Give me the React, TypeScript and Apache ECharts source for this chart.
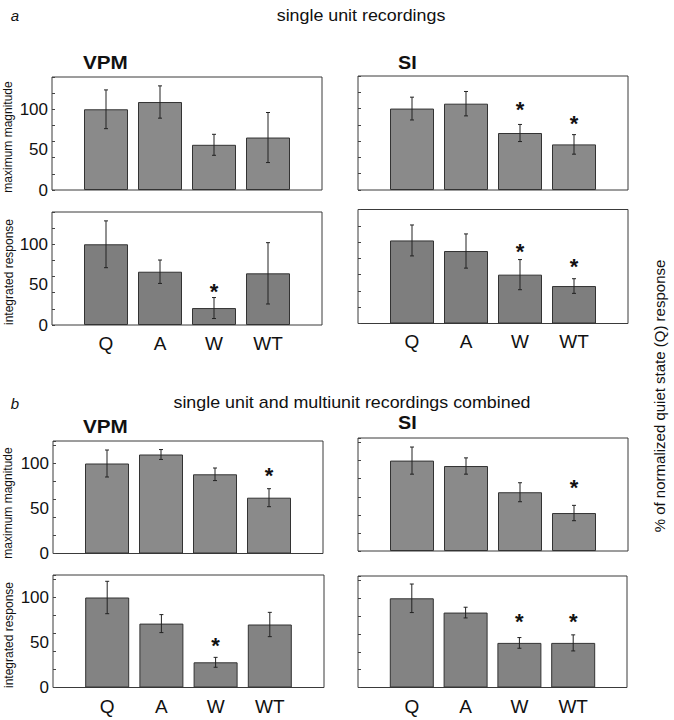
import React, { useEffect, useRef } from "react";
import * as echarts from "echarts";

const categories = ["Q", "A", "W", "WT"];
const yTickLabels = [0, 50, 100];

// panel a: single unit recordings
const aVpmMax = [100, 109, 56, 65];
const aVpmMaxErr = [24, 20, 13, 31];
const aVpmMaxStar = [null, null, null, null];
const aVpmInt = [100, 66, 21, 64];
const aVpmIntErr = [29, 14.5, 13, 38];
const aVpmIntStar = [null, null, 46, null];
const aSiMax = [100, 106, 70, 56];
const aSiMaxErr = [14, 15, 10.5, 12];
const aSiMaxStar = [null, null, 104, 86];
const aSiInt = [102, 89, 60, 46];
const aSiIntErr = [19, 21, 18.5, 9];
const aSiIntStar = [null, null, 93, 75];

// panel b: single unit and multiunit combined
const bVpmMax = [100, 110, 88, 62];
const bVpmMaxErr = [15, 5.5, 7, 10];
const bVpmMaxStar = [null, null, null, 91];
const bVpmInt = [100, 71, 28, 70];
const bVpmIntErr = [18, 10, 5.5, 13.5];
const bVpmIntStar = [null, null, 51, null];
const bSiMax = [100, 94, 65, 42];
const bSiMaxErr = [15, 9, 10.5, 8.5];
const bSiMaxStar = [null, null, null, 74.5];
const bSiInt = [100, 84, 50, 50];
const bSiIntErr = [16, 6, 6, 9];
const bSiIntStar = [null, null, 78, 78];

const FONT = "'Liberation Sans', Arial, Helvetica, sans-serif";

type Panel = {
  vals: number[];
  errs: number[];
  stars: (number | null)[];
  left: number;
  top: number;
  width: number;
  height: number;
  max: number;
  showY: boolean;
  showX: boolean;
  xMargin: number;
  color: string;
};

const panels: Panel[] = [
  { vals: aVpmMax, errs: aVpmMaxErr, stars: aVpmMaxStar, left: 52, top: 77, width: 270, height: 113, max: 140, showY: true, showX: false, xMargin: 9, color: "#8a8a8a" },
  { vals: aVpmInt, errs: aVpmIntErr, stars: aVpmIntStar, left: 52, top: 212, width: 270, height: 113, max: 140, showY: true, showX: true, xMargin: 9, color: "#7e7e7e" },
  { vals: aSiMax, errs: aSiMaxErr, stars: aSiMaxStar, left: 358, top: 76, width: 270, height: 114, max: 140, showY: false, showX: false, xMargin: 8, color: "#8a8a8a" },
  { vals: aSiInt, errs: aSiIntErr, stars: aSiIntStar, left: 358, top: 209.5, width: 270, height: 114, max: 140, showY: false, showX: true, xMargin: 8, color: "#7e7e7e" },
  { vals: bVpmMax, errs: bVpmMaxErr, stars: bVpmMaxStar, left: 53, top: 441, width: 270, height: 112.5, max: 125, showY: true, showX: false, xMargin: 9, color: "#8a8a8a" },
  { vals: bVpmInt, errs: bVpmIntErr, stars: bVpmIntStar, left: 53, top: 575, width: 271, height: 112.5, max: 125, showY: true, showX: true, xMargin: 9, color: "#838383" },
  { vals: bSiMax, errs: bSiMaxErr, stars: bSiMaxStar, left: 358, top: 438, width: 270, height: 113, max: 125, showY: false, showX: false, xMargin: 8, color: "#8a8a8a" },
  { vals: bSiInt, errs: bSiIntErr, stars: bSiIntStar, left: 358, top: 576, width: 269, height: 111.5, max: 125, showY: false, showX: true, xMargin: 9, color: "#838383" },
];

function txt(text: string, x: number, y: number, opts: any = {}) {
  return {
    type: "text",
    x,
    y,
    rotation: opts.rotation || 0,
    scaleX: opts.scaleX || 1,
    style: {
      text,
      fontSize: opts.fontSize || 16,
      fontFamily: FONT,
      fontWeight: opts.fontWeight || "normal",
      fontStyle: opts.fontStyle || "normal",
      fill: "#111",
      align: opts.align || "center",
      verticalAlign: "middle",
    },
  };
}

export default function App() {
  const ref = useRef<HTMLDivElement>(null);
  useEffect(() => {
    document.body.style.margin = "0";
    const chart = echarts.init(ref.current!, null, { renderer: "svg" });
    const grid: any[] = [];
    const xAxis: any[] = [];
    const yAxis: any[] = [];
    const series: any[] = [];
    panels.forEach((p, i) => {
      grid.push({ left: p.left, top: p.top, width: p.width, height: p.height, show: true, borderColor: "#3a3a3a", borderWidth: 1, containLabel: false });
      xAxis.push({
        type: "value", gridIndex: i, min: 0, max: 5, interval: 1,
        axisLine: { show: false }, axisTick: { show: false }, splitLine: { show: false },
        axisLabel: {
          show: p.showX, margin: p.xMargin, fontSize: 19, fontFamily: FONT, color: "#111",
          formatter: (v: number) => categories[v - 1] ?? "",
        },
      });
      yAxis.push({
        type: "value", gridIndex: i, position: "left", min: 0, max: p.max, interval: 50,
        axisLine: { show: false }, axisTick: { show: false }, splitLine: { show: false },
        axisLabel: {
          show: p.showY, showMaxLabel: false, margin: 4, fontSize: 17, fontFamily: FONT, color: "#111",
          formatter: (v: number) => (yTickLabels.indexOf(v) >= 0 ? String(v) : ""),
        },
      });
      yAxis.push({
        type: "value", gridIndex: i, position: "left", offset: 0, min: 0, max: p.max, interval: 20,
        axisLine: { show: false }, splitLine: { show: false }, axisLabel: { show: false },
        axisTick: { show: true, inside: true, length: 3, lineStyle: { color: "#444", width: 1 } },
      });
      series.push({
        type: "bar", xAxisIndex: i, yAxisIndex: 2 * i, barWidth: 44,
        data: p.vals.map((v, k) => [k + 1, v]),
        itemStyle: { color: p.color, borderColor: "#333", borderWidth: 1 },
        silent: true,
      });
      series.push({
        type: "custom", xAxisIndex: i, yAxisIndex: 2 * i,
        data: p.vals.map((v, k) => [k + 1, v, p.errs[k]]),
        renderItem: (params: any, api: any) => {
          const x = api.value(0), v = api.value(1), e = api.value(2);
          const t = api.coord([x, v + e]);
          const b = api.coord([x, v - e]);
          const ls = { stroke: "#222", lineWidth: 1 };
          return {
            type: "group",
            children: [
              { type: "line", shape: { x1: t[0], y1: t[1], x2: b[0], y2: b[1] }, style: ls },
              { type: "line", shape: { x1: t[0] - 2, y1: t[1], x2: t[0] + 2, y2: t[1] }, style: ls },
              { type: "line", shape: { x1: b[0] - 2, y1: b[1], x2: b[0] + 2, y2: b[1] }, style: ls },
            ],
          };
        },
        z: 5,
      });
      const starData = p.stars
        .map((s, k) => (s == null ? null : [k + 1, s]))
        .filter((d) => d != null);
      if (starData.length) {
        series.push({
          type: "custom", xAxisIndex: i, yAxisIndex: 2 * i,
          data: starData,
          renderItem: (params: any, api: any) => {
            const c = api.coord([api.value(0), api.value(1)]);
            return {
              type: "text", x: c[0], y: c[1] + 4,
              style: { text: "*", fontSize: 22, fontWeight: "bold", fontFamily: FONT, fill: "#111", align: "center", verticalAlign: "middle" },
            };
          },
          z: 6,
        });
      }
    });

    const graphic = [
      txt("a", 15, 15, { fontSize: 15, fontStyle: "italic" }),
      txt("single unit recordings", 361, 15, { fontSize: 17, scaleX: 1.05 }),
      txt("VPM", 83, 63, { fontSize: 18, fontWeight: "bold", align: "left", scaleX: 1.15 }),
      txt("SI", 398, 63, { fontSize: 18, fontWeight: "bold", align: "left", scaleX: 1.1 }),
      txt("b", 15, 403, { fontSize: 15, fontStyle: "italic" }),
      txt("single unit and multiunit recordings combined", 352, 402, { fontSize: 17, scaleX: 1.05 }),
      txt("VPM", 83, 427, { fontSize: 18, fontWeight: "bold", align: "left", scaleX: 1.15 }),
      txt("SI", 398, 423, { fontSize: 18, fontWeight: "bold", align: "left", scaleX: 1.1 }),
      txt("maximum magnitude", 8, 137, { fontSize: 12, rotation: Math.PI / 2 }),
      txt("integrated response", 9, 272, { fontSize: 12, rotation: Math.PI / 2 }),
      txt("maximum magnitude", 8, 503, { fontSize: 12, rotation: Math.PI / 2 }),
      txt("integrated response", 9, 635, { fontSize: 12, rotation: Math.PI / 2 }),
      txt("% of normalized quiet state (Q) response", 659, 396, { fontSize: 15, rotation: Math.PI / 2 }),
    ];

    chart.setOption({
      animation: false,
      backgroundColor: "#fff",
      grid, xAxis, yAxis, series, graphic,
    });
    return () => chart.dispose();
  }, []);
  return <div ref={ref} style={{ width: 674, height: 720 }} />;
}
